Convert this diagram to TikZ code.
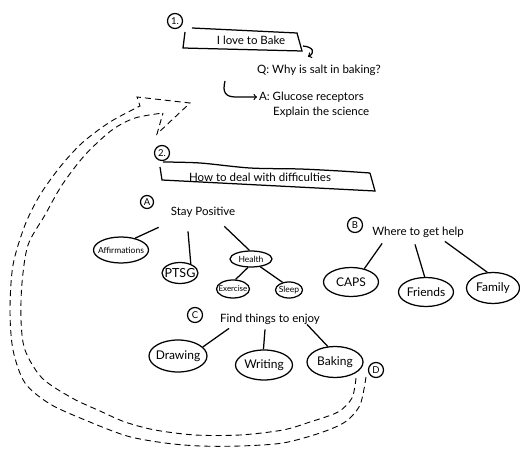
\documentclass[tikz,border=0pt]{standalone}
\usepackage{fontspec}
\setmainfont{Lato}
\usetikzlibrary{shapes.geometric}
\newcommand{\inbub}[1]{\makebox[0pt]{#1}}

\begin{document}
\begin{tikzpicture}[x=1pt, y=-1pt, line width=1.25pt,
	every node/.style={font=\fontsize{11.5}{13}\selectfont, inner sep=1.5pt},
	tag/.style={circle, draw, inner sep=0pt, minimum size=15pt, font=\fontsize{9.5}{10}\selectfont},
	bub/.style={ellipse, draw, inner sep=0pt},
	small/.style={font=\fontsize{8.5}{9}\selectfont},
	trail/.style={dash pattern=on 6pt off 4pt, line width=0.9pt}]
		\useasboundingbox (0,0) rectangle (520,449);
		% 1. baking question
		\node[tag] (tag1) at (175,21) {1.};
		\draw (192,28) -- (297,33) -- (302,51) -- (183,48) -- (185,32);
		\node (bake) at (251,40) {I love to Bake};
		\node (q) at (319,70) {Q: Why is salt in baking?};
		\node[anchor=west] (ans) at (257,97) {A: Glucose receptors};
		\node[anchor=west] (expl) at (271,112) {Explain the science};
		\coordinate (hookq) at (303,46);
		\coordinate (hooka) at (225,81);
		\draw[->] (hookq) .. controls (314,47) and (315,53) .. ([shift={(-11,-6)}]q.north);
		\draw[->] (hooka) .. controls (222,93) and (226,97) .. (236,97) -- (ans.west);
		% 2. difficulties
		\node[tag] (tag2) at (162,153) {2.};
		\draw plot[smooth] coordinates {(163,162) (200,163) (250,168) (300,169) (340,171) (370,173)};
		\draw (370,173) -- (375,191) -- (162,180) -- (160,167);
		\node (diff) at (260,177) {How to deal with difficulties};
		% A
		\node[tag, minimum size=13pt] (tagA) at (147,202) {A};
		\node (stay) at (203,212) {Stay Positive};
		\node[bub, small, minimum width=55pt, minimum height=26pt] (aff) at (121,250) {\inbub{Affirmations}};
		\node[bub, font=\fontsize{12.5}{13}\selectfont, minimum width=36pt, minimum height=21pt] (ptsg) at (180,273) {\inbub{PTSG}};
		\node[bub, small, minimum width=42pt, minimum height=16pt] (health) at (251,259) {\inbub{Health}};
		\node[bub, font=\fontsize{8}{8}\selectfont, minimum width=33pt, minimum height=18pt] (exer) at (233,289) {\inbub{Exercise}};
		\node[bub, small, minimum width=27pt, minimum height=16pt] (sleep) at (289,290) {\inbub{Sleep}};
		\draw ([shift={(-10,8)}]stay.south west) -- (aff.40);
		\draw ([shift={(-15,12)}]stay.south) -- (ptsg.40);
		\draw ([shift={(-13,7)}]stay.south east) -- (health.100);
		\draw (health.250) -- (exer.75);
		\draw (health.-40) -- (sleep.130);
		% B
		\node[tag] (tagB) at (355,225) {B};
		\node (where) at (418,232) {Where to get help};
		\node[bub, font=\fontsize{12}{13}\selectfont, minimum width=55pt, minimum height=29pt] (caps) at (351,282) {\inbub{CAPS}};
		\node[bub, font=\fontsize{12}{13}\selectfont, minimum width=55pt, minimum height=29pt] (friends) at (426,292) {\inbub{Friends}};
		\node[bub, font=\fontsize{12}{13}\selectfont, minimum width=53pt, minimum height=31pt] (family) at (493,288) {\inbub{Family}};
		\draw ([shift={(12,4)}]where.south west) -- (caps.45);
		\draw ([shift={(-3,5)}]where.south) -- (friends.95);
		\draw ([shift={(-21,2)}]where.south east) -- (family.110);
		% C
		\node[tag] (tagC) at (195,315) {C};
		\node (find) at (270,319) {Find things to enjoy};
		\node[bub, font=\fontsize{12}{13}\selectfont, minimum width=58pt, minimum height=32pt] (drawing) at (178,356) {\inbub{Drawing}};
		\node[bub, font=\fontsize{12}{13}\selectfont, minimum width=57pt, minimum height=30pt] (writing) at (264,365) {\inbub{Writing}};
		\node[bub, font=\fontsize{12}{13}\selectfont, minimum width=56pt, minimum height=31pt] (baking) at (335,362) {\inbub{Baking}};
		\draw ([shift={(11,2)}]find.south west) -- (drawing.20);
		\draw ([shift={(-5,3)}]find.south) -- (writing.92);
		\draw ([shift={(-15,-2)}]find.south east) -- (baking.115);
		% D: way back to the top
		\node[tag] (tagD) at (376,370) {D};
		\draw[trail] plot[smooth] coordinates {(366,377) (360,405) (345,422) (320,433) (283,443) (240,446) (200,446) (165,443) (127,436) (85,420) (50,404) (25,383) (13,350) (10,310) (13,265) (25,225) (40,195) (60,167) (82,143) (110,122) (140,106)}
			-- (137,97) -- (190,103) -- (157,134) -- (163,113);
		\draw[trail] plot[smooth] coordinates {(356,378) (352,398) (338,412) (310,422) (283,430) (240,435) (195,435) (155,430) (125,422) (100,411) (72,398) (42,378) (25,350) (21,320) (22,283) (28,245) (45,215) (62,185) (85,155) (112,130) (135,118) (163,113)};
\end{tikzpicture}
\end{document}
